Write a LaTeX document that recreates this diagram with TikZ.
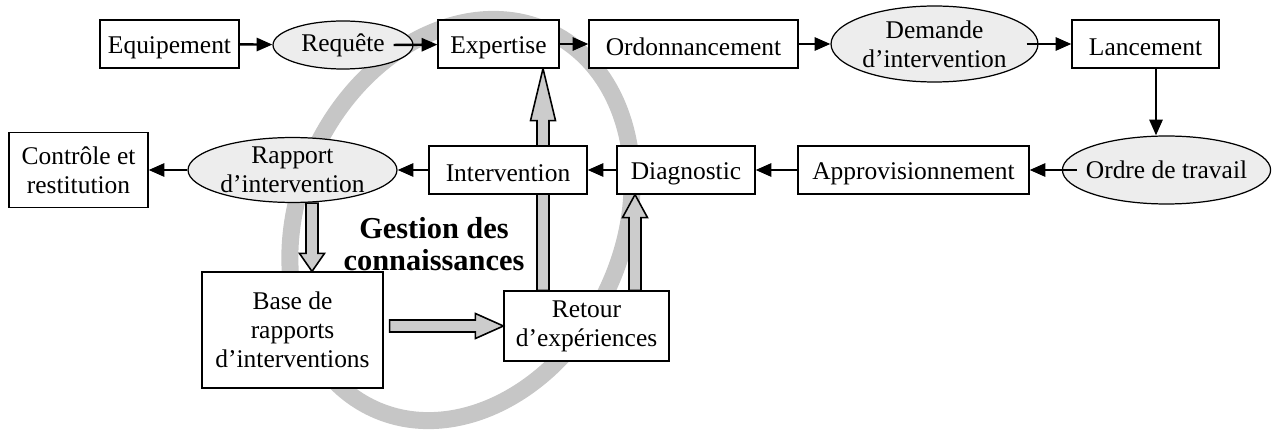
\documentclass[tikz,border=0pt]{standalone}
\usepackage{fontspec}
\setmainfont{Liberation Serif}
\usetikzlibrary{arrows.meta,shapes.geometric,calc}
\pgfdeclarelayer{dessous}
\pgfsetlayers{dessous,main}

\begin{document}
\begin{tikzpicture}[x=0.02cm, y=-0.02cm,
    box/.style={rectangle, draw=black, fill=white, line width=0.7pt,
                minimum height=0.96cm, inner sep=2pt, align=center,
                font=\fontsize{14.5}{16.5}\selectfont},
    box1/.style={box, text height=13.5pt},
    bulle/.style={ellipse, draw=black, fill=gray!14, line width=0.7pt,
                  inner sep=0pt, align=center,
                  font=\fontsize{14.5}{16.5}\selectfont},
    arr/.style={-{Triangle[length=9pt, width=7.5pt]}, line width=1.4pt},
    anneau/.style={draw=gray!45, line width=0.34cm},
    blk/.style={draw=black, fill=gray!40, line width=0.9pt,
      to path={let \p1=($(\tikztotarget)!#1!(\tikztostart)$) in
        ($(\tikztostart)!0.12cm!90:(\tikztotarget)$)
        -- ($(\p1)!0.12cm!90:(\tikztotarget)$)
        -- ($(\p1)!0.25cm!90:(\tikztotarget)$)
        -- (\tikztotarget)
        -- ($(\p1)!0.25cm!-90:(\tikztotarget)$)
        -- ($(\p1)!0.12cm!-90:(\tikztotarget)$)
        -- ($(\tikztostart)!0.12cm!-90:(\tikztotarget)$)
        -- cycle}},
    blk/.default=0.4cm
  ]
  \useasboundingbox (0,0) rectangle (1274,432);

  % Top row
  \node[box1, minimum width=2.78cm] (equip)  at (169.5,44) {Equipement};
  \node[bulle, minimum width=2.8cm, minimum height=0.96cm] (req) at (343,45) {Requête};
  \node[box1, minimum width=2.42cm] (expert) at (498.5,44) {Expertise};
  \node[box1, minimum width=4.18cm] (ordo)   at (693.5,44) {Ordonnancement};
  \node[bulle, minimum width=4.14cm, minimum height=1.52cm] (dem) at (934.5,44) {Demande\\d’intervention};
  \node[box1, minimum width=2.94cm] (lanc)   at (1145.5,44) {Lancement};

  % Second row
  \node[box, minimum width=2.78cm, minimum height=1.5cm] (ctrl) at (78.5,170) {Contrôle et\\restitution};
  \node[bulle, minimum width=4.18cm, minimum height=1.24cm] (rapp) at (292.5,170) {Rapport\\d’intervention};
  \node[box1, minimum width=3.16cm] (interv) at (508,170) {Intervention};
  \node[box1, minimum width=2.76cm] (diag)   at (686,170) {Diagnostic};
  \node[box1, minimum width=4.62cm] (appro)  at (913.5,170) {Approvisionnement};
  \node[bulle, inner xsep=-4pt, minimum width=4.14cm, minimum height=1.36cm] (ordre) at (1166.5,170) {Ordre de travail};

  % Knowledge base
  \node[box, minimum width=3.62cm, minimum height=2.32cm] (base) at (292.5,330) {Base de\\rapports\\d’interventions};
  \node[box, minimum width=3.3cm, minimum height=1.4cm] (retour) at (586.5,326) {Retour\\d’expériences};
  \node[font=\bfseries\fontsize{17.3}{18}\selectfont, align=center] (gestion) at (434,244) {Gestion des\\connaissances};

  % Knowledge loop and long feedback arrow, behind the boxes
  \begin{pgfonlayer}{dessous}
    \draw[anneau, rotate around={-25:(461,220)}] (461,220) ellipse [x radius=162, y radius=208];
    \draw[blk=1.04cm] ([xshift=-0.87cm]retour.north) to ([xshift=-0.87cm]retour.north |- expert.south);
  \end{pgfonlayer}

  % Process flow
  \draw[arr] (equip) -- (req);
  \draw[arr] ([xshift=-0.4cm]req.east) -- (expert);
  \draw[arr] (expert) -- (ordo);
  \draw[arr] (ordo) -- (dem);
  \draw[arr] ([xshift=-0.24cm]dem.east) -- (lanc);
  \draw[arr] ([xshift=0.21cm]lanc.south) -- ([xshift=0.21cm]lanc.south |- ordre.north);
  \draw[arr] ([xshift=0.3cm]ordre.west) -- (appro);
  \draw[arr] (appro) -- (diag);
  \draw[arr] (diag) -- (interv);
  \draw[arr] (interv) -- (rapp);
  \draw[arr] (rapp) -- (ctrl);

  % Feedback arrows
  \draw[blk=0.36cm] ([xshift=0.39cm]rapp.south) to ([xshift=0.39cm]base.north);
  \draw[blk=0.56cm] ([xshift=0.12cm]base.east |- retour.west) to (retour.west);
  \draw[blk=0.46cm] ([xshift=0.97cm]retour.north) to ([xshift=0.97cm]retour.north |- diag.south);
\end{tikzpicture}
\end{document}
